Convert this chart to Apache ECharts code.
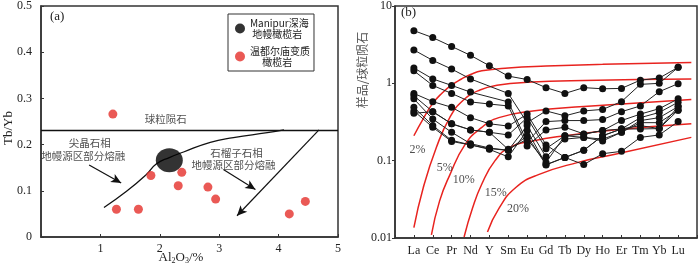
<!DOCTYPE html>
<html>
<head>
<meta charset="utf-8">
<script src="https://cdn.jsdelivr.net/npm/echarts@6/dist/echarts.min.js"></script>
<style>
html, body { margin: 0; padding: 0; background: #fff; }
#main { width: 700px; height: 269px; }
</style>
</head>
<body>
<div id="main"></div>
<script>
var SERIF = '"Liberation Serif","Times New Roman",serif';
var CJK = '"Noto Sans CJK SC",sans-serif';

// (a) Al2O3 vs Tb/Yb
var manipur = [[2.16, 0.166]];
var wenduerm = [[1.21, 0.266], [1.27, 0.060], [1.64, 0.060], [1.85, 0.133], [2.31, 0.111],
  [2.37, 0.140], [2.81, 0.108], [2.94, 0.082], [4.18, 0.050], [4.45, 0.077]];
var chondriteTbYb = 0.232;
var spinelCurve = [[1.06, 0.064], [1.44, 0.099], [1.77, 0.135], [1.94, 0.158], [2.16, 0.172],
  [2.40, 0.184], [2.85, 0.205], [3.24, 0.215], [3.81, 0.226], [4.09, 0.232]];
var spinelArrow = [[0.81, 0.156], [1.35, 0.117]];
var garnetArrow = [[3.07, 0.146], [3.61, 0.103]];
var garnetLine = [[4.68, 0.232], [3.30, 0.046]];
var notesA = [
  { name: '球粒陨石', value: [2.10, 0.256] },
  { name: '尖晶石相', value: [0.82, 0.204] },
  { name: '地幔源区部分熔融', value: [0.71, 0.176] },
  { name: '石榴子石相', value: [3.29, 0.182] },
  { name: '地幔源区部分熔融', value: [3.24, 0.155] }
];

// (b) chondrite-normalised REE
var ree = ['La', 'Ce', 'Pr', 'Nd', 'Y', 'Sm', 'Eu', 'Gd', 'Tb', 'Dy', 'Ho', 'Er', 'Tm', 'Yb', 'Lu'];
var s1 = [4.8, 3.9, 3.0, 2.3, 1.69, 1.24, 1.12, 0.88, 0.74, 0.88, 0.85, 0.86, 1.1, 1.17, 1.61];
var s2 = [2.7, 1.98, 1.53, 1.14, null, 0.74, 0.31, 0.44, 0.38, 0.44, 0.46, 0.58, 0.97, 1.0, 1.61];
var s3 = [1.58, 1.14, 0.94, 0.77, null, 0.575, 0.174, 0.32, 0.33, 0.33, 0.34, 0.43, 0.51, 0.78, 0.99];
var s4 = [1.45, 0.94, 0.74, 0.575, 0.54, 0.51, 0.155, 0.25, 0.27, 0.222, 0.245, 0.33, 0.40, 0.47, 0.63];
var s5 = [0.74, 0.58, 0.49, 0.36, 0.30, 0.28, 0.40, 0.16, 0.11, 0.136, 0.21, 0.257, 0.36, 0.42, 0.57];
var s6 = [0.69, 0.43, 0.30, 0.25, 0.233, 0.215, 0.36, 0.143, 0.21, 0.20, 0.19, 0.233, 0.33, 0.36, 0.50];
var s7 = [0.63, 0.345, 0.233, 0.166, 0.146, 0.136, 0.284, 0.112, 0.19, 0.20, 0.18, 0.233, 0.31, 0.31, 0.45];
var s8 = [0.49, 0.284, 0.183, 0.16, 0.14, 0.112, 0.245, 0.089, 0.11, 0.136, 0.21, 0.257, 0.284, 0.26, 0.45];
var s9 = [0.44, 0.27, 0.177, 0.16, 0.143, 0.136, 0.21, 0.088, 0.11, 0.089, 0.123, 0.132, 0.20, 0.215, 0.32];
var s10 = [0.41, 0.43, 0.30, 0.25, 0.233, 0.14, 0.19, 0.095, 0.21, 0.22, 0.245, 0.257, 0.257, 0.26, 0.50];
var samples = [s1, s2, s3, s4, s5, s6, s7, s8, s9, s10];

// partial melting model curves (x = element index)
var melt2 = [[0, 0.21], [0.5, 0.35], [1, 0.55], [1.5, 0.75], [2, 0.95], [2.5, 1.13], [3, 1.3],
  [3.6, 1.45], [5, 1.58], [7, 1.67], [10, 1.76], [14.7, 1.86]];
var melt5 = [[0, 0.0136], [0.5, 0.045], [1.2, 0.15], [1.9, 0.36], [2.6, 0.6], [3.5, 0.82],
  [4.5, 0.95], [6, 1.03], [9, 1.09], [14.7, 1.14]];
var melt10 = [[0.93, 0.011], [1.36, 0.03], [1.9, 0.065], [2.7, 0.16], [3.6, 0.27], [4.5, 0.36],
  [6.3, 0.44], [9, 0.5], [14.7, 0.62]];
var melt15 = [[2.66, 0.0103], [3.1, 0.024], [3.6, 0.05], [4.3, 0.1], [5.1, 0.15], [6.3, 0.18],
  [8, 0.21], [10.6, 0.25], [14.7, 0.30]];
var melt20 = [[3.9, 0.012], [4.5, 0.024], [5.4, 0.045], [6.6, 0.066], [8.7, 0.095], [10.6, 0.12],
  [14.7, 0.2]];
var meltNotes = [
  { name: '2%', value: [0.19, 0.136] },
  { name: '5%', value: [1.63, 0.081] },
  { name: '10%', value: [2.64, 0.056] },
  { name: '15%', value: [4.34, 0.0388] },
  { name: '20%', value: [5.51, 0.0238] }
];

var chart = echarts.init(document.getElementById('main'));

var axisLine = { show: true, onZero: false, lineStyle: { color: '#333', width: 1.5 } };
var tick = { show: true, inside: true, length: 3, lineStyle: { color: '#333', width: 1 } };
var lbl = { fontFamily: SERIF, fontSize: 12, color: '#222' };

var series = [];

// --- panel a ---
series.push({
  name: 'Manipur深海地幔橄榄岩', type: 'scatter', xAxisIndex: 0, yAxisIndex: 0,
  data: manipur, symbolSize: [27, 24], itemStyle: { color: '#000' }, z: 4
});
series.push({
  name: '温都尔庙变质橄榄岩', type: 'scatter', xAxisIndex: 0, yAxisIndex: 0,
  data: wenduerm, symbolSize: 9, itemStyle: { color: '#e5302b' }, z: 4
});
series.push({
  type: 'line', xAxisIndex: 0, yAxisIndex: 0, data: spinelCurve, smooth: true,
  showSymbol: false, lineStyle: { color: '#111', width: 1.3 }, z: 3,
  markLine: {
    silent: true, symbol: ['none', 'none'], label: { show: false },
    lineStyle: { color: '#111', width: 1.3, type: 'solid' },
    data: [[{ coord: [0, chondriteTbYb] }, { coord: [5, chondriteTbYb] }]]
  }
});
series.push({
  type: 'line', xAxisIndex: 0, yAxisIndex: 0, data: [], z: 3,
  markLine: {
    silent: true, symbol: ['none', 'arrow'], symbolSize: [7, 10], label: { show: false },
    lineStyle: { color: '#111', width: 1.2, type: 'solid' },
    data: [
      [{ coord: spinelArrow[0] }, { coord: spinelArrow[1] }],
      [{ coord: garnetArrow[0] }, { coord: garnetArrow[1] }],
      [{ coord: garnetLine[0] }, { coord: garnetLine[1] }]
    ]
  }
});
series.push({
  type: 'scatter', xAxisIndex: 0, yAxisIndex: 0, data: notesA, symbolSize: 0, silent: true,
  label: { show: true, position: 'inside', formatter: '{b}', fontFamily: CJK, fontSize: 10.5, color: '#222' }
});

// --- panel b ---
samples.forEach(function (s) {
  series.push({
    type: 'line', xAxisIndex: 1, yAxisIndex: 1, connectNulls: true,
    data: s.map(function (v, i) { return [i, v]; }),
    symbol: 'circle', symbolSize: 7, showAllSymbol: true,
    itemStyle: { color: '#111' }, lineStyle: { color: '#222', width: 1 }, z: 3
  });
});
[melt2, melt5, melt10, melt15, melt20].forEach(function (m) {
  series.push({
    type: 'line', xAxisIndex: 1, yAxisIndex: 1, data: m, smooth: true, showSymbol: false,
    lineStyle: { color: '#e8231f', width: 1.5 }, z: 2
  });
});
series.push({
  type: 'scatter', xAxisIndex: 1, yAxisIndex: 1, data: meltNotes, symbolSize: 0, silent: true,
  label: { show: true, position: 'inside', formatter: '{b}', fontFamily: SERIF, fontSize: 12, color: '#222' }
});

chart.setOption({
  animation: false,
  backgroundColor: '#fff',
  grid: [
    { left: 41, top: 3, width: 297, height: 234, show: true, borderColor: '#333', borderWidth: 1.5 },
    { left: 395, top: 3, width: 304, height: 235, show: true, borderColor: '#333', borderWidth: 1.5 }
  ],
  xAxis: [
    {
      gridIndex: 0, type: 'value', min: 0, max: 5, interval: 1, axisLine: axisLine, axisTick: tick,
      splitLine: { show: false },
      axisLabel: Object.assign({ margin: 6, formatter: function (v) { return v === 0 ? '' : v; } }, lbl)
    },
    {
      gridIndex: 1, type: 'value', min: -1, max: 15, interval: 1, axisLine: axisLine, axisTick: tick,
      splitLine: { show: false },
      axisLabel: Object.assign({ margin: 7, formatter: function (v) { return ree[v] || ''; } }, lbl)
    }
  ],
  yAxis: [
    {
      gridIndex: 0, type: 'value', min: 0, max: 0.5, interval: 0.1, axisLine: axisLine, axisTick: tick,
      splitLine: { show: false },
      axisLabel: Object.assign({ margin: 9, formatter: function (v) { return v === 0 ? '0' : v.toFixed(1); } }, lbl)
    },
    {
      gridIndex: 1, type: 'log', logBase: 10, min: 0.01, max: 10, axisLine: axisLine,
      axisTick: { show: true, inside: false, length: 3, lineStyle: { color: '#333' } },
      splitLine: { show: false }, minorTick: { show: false },
      axisLabel: Object.assign({ margin: 3, formatter: function (v) { return String(+v.toFixed(2)); } }, lbl)
    }
  ],
  legend: {
    data: ['Manipur深海地幔橄榄岩', '温都尔庙变质橄榄岩'],
    orient: 'vertical', left: 228, top: 14,
    padding: [3, 4, 3, 7], itemGap: 5, itemWidth: 10, itemHeight: 10,
    borderColor: '#333', borderWidth: 1, borderRadius: 0, backgroundColor: '#fff',
    formatter: function (n) {
      return n === 'Manipur深海地幔橄榄岩' ? 'Manipur深海\n 地幔橄榄岩' : '温都尔庙变质\n\u3000 橄榄岩';
    },
    textStyle: { fontFamily: CJK, fontSize: 10, lineHeight: 11.5, color: '#222' }
  },
  graphic: [
    { type: 'text', left: 50, top: 10, style: { text: '(a)', font: '13px ' + SERIF, fill: '#222' } },
    { type: 'text', left: 401, top: 6, style: { text: '(b)', font: '13px ' + SERIF, fill: '#222' } },
    {
      type: 'text', x: 9, y: 128, rotation: Math.PI / 2,
      style: { text: 'Tb/Yb', font: '13px ' + SERIF, fill: '#222', align: 'center', verticalAlign: 'middle' }
    },
    {
      type: 'text', x: 362, y: 70, rotation: Math.PI / 2,
      style: { text: '样品/球粒陨石', font: '12px ' + CJK, fill: '#555', align: 'center', verticalAlign: 'middle' }
    },
    {
      type: 'text', x: 181, y: 258,
      style: {
        text: 'Al{s|2}O{s|3}/%', font: '13px ' + SERIF, fill: '#222', align: 'center', verticalAlign: 'middle',
        rich: { s: { fontSize: 8, fontFamily: SERIF, verticalAlign: 'bottom', padding: [6, 0, 0, 0] } }
      }
    }
  ],
  series: series
});
</script>
</body>
</html>
